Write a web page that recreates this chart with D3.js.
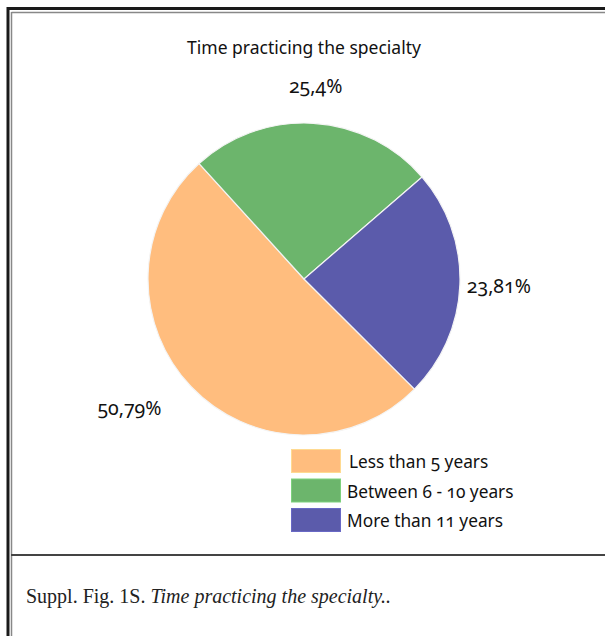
<!DOCTYPE html>
<html>
<head>
<meta charset="utf-8">
<script src="https://cdn.jsdelivr.net/npm/d3@7"></script>
<style>
  body { margin: 0; background: #fff; }
  svg text { font-family: "Noto Sans", "Open Sans", sans-serif; fill: #111; }
  .num { font-variant-numeric: oldstyle-nums; font-feature-settings: "onum" 1; }
  .caption { font-family: "Liberation Serif", "DejaVu Serif", serif; fill: #222; }
</style>
</head>
<body>
<div id="chart"></div>
<script>
    // chart data
    var categories = ["Less than 5 years", "Between 6 - 10 years", "More than 11 years"];
    var shares = [50.79, 25.4, 23.81];
    var shareLabels = ["50,79%", "25,4%", "23,81%"];
    var colors = ["#FFBD7E", "#6CB56C", "#5B5BAB"];

    var width = 605,
        height = 636;

    var svg = d3.select("#chart")
        .append("svg")
        .attr("width", width)
        .attr("height", height);

    //frame lines like the page around the figure
    var frame = svg.append("g");
    frame.append("line").attr("x1", 8).attr("y1", 8.5).attr("x2", width).attr("y2", 8.5)
        .attr("stroke", "#1a1a1a").attr("stroke-width", 3);
    frame.append("line").attr("x1", 8).attr("y1", 7).attr("x2", 8).attr("y2", height)
        .attr("stroke", "#1a1a1a").attr("stroke-width", 3);
    frame.append("line").attr("x1", 11.5).attr("y1", 12.5).attr("x2", width).attr("y2", 12.5)
        .attr("stroke", "#888").attr("stroke-width", 1.5);
    frame.append("line").attr("x1", 11.5).attr("y1", 12).attr("x2", 11.5).attr("y2", height)
        .attr("stroke", "#888").attr("stroke-width", 1.5);
    frame.append("line").attr("x1", 11).attr("y1", 555).attr("x2", width).attr("y2", 555)
        .attr("stroke", "#444").attr("stroke-width", 2);

    //title
    svg.append("text")
        .attr("x", 304)
        .attr("y", 54)
        .attr("text-anchor", "middle")
        .style("font-size", "17.5px")
        .text("Time practicing the specialty");

    //pie
    var cx = 304, cy = 279, radius = 156;
    var g = svg.append("g").attr("transform", "translate(" + cx + "," + cy + ")");

    var startDeg = 134.9;
    var pie = d3.pie()
        .sort(null)
        .value(function(d) { return d; })
        .startAngle(startDeg * Math.PI / 180)
        .endAngle(startDeg * Math.PI / 180 + 2 * Math.PI);

    var arc = d3.arc().innerRadius(0).outerRadius(radius);
    var labelArc = d3.arc().innerRadius(193).outerRadius(193);

    var slices = pie(shares);

    g.selectAll(".slice")
        .data(slices)
        .enter().append("path")
        .attr("class", "slice")
        .attr("d", arc)
        .attr("fill", function(d, i) { return colors[i]; })
        .attr("stroke", "#f4f4f4")
        .attr("stroke-width", 1.2);

    //percent labels, the big slice label sits further out to the left
    var nudge = [[-35, -4], [0, 0], [2, 0]];
    g.selectAll(".pct")
        .data(slices)
        .enter().append("text")
        .attr("class", "pct num")
        .attr("text-anchor", "middle")
        .attr("dy", "0.35em")
        .attr("x", function(d, i) { return labelArc.centroid(d)[0] + nudge[i][0]; })
        .attr("y", function(d, i) { return labelArc.centroid(d)[1] + nudge[i][1]; })
        .style("font-size", "19.5px")
        .text(function(d, i) { return shareLabels[i]; });

    //legend
    var legend = svg.append("g").attr("transform", "translate(291,449)");
    var rows = legend.selectAll(".row")
        .data(categories)
        .enter().append("g")
        .attr("class", "row")
        .attr("transform", function(d, i) { return "translate(0," + (i * 29.5) + ")"; });

    rows.append("rect")
        .attr("x", 0.5).attr("y", 0.5)
        .attr("width", 49).attr("height", 23)
        .attr("fill", function(d, i) { return colors[i]; })
        .attr("stroke", function(d, i) { return d3.color(colors[i]).brighter(0.4); })
        .attr("stroke-width", 1);

    rows.append("text")
        .attr("class", "num")
        .attr("x", function(d, i) { return i === 0 ? 58 : 56; })
        .attr("y", 19)
        .style("font-size", "17.3px")
        .text(function(d) { return d; });

    //caption below the frame line
    var caption = svg.append("text")
        .attr("class", "caption")
        .attr("x", 26)
        .attr("y", 603)
        .style("font-size", "20px");
    caption.append("tspan").text("Suppl. Fig. 1S. ");
    caption.append("tspan").style("font-style", "italic").text("Time practicing the specialty..");
</script>
</body>
</html>
